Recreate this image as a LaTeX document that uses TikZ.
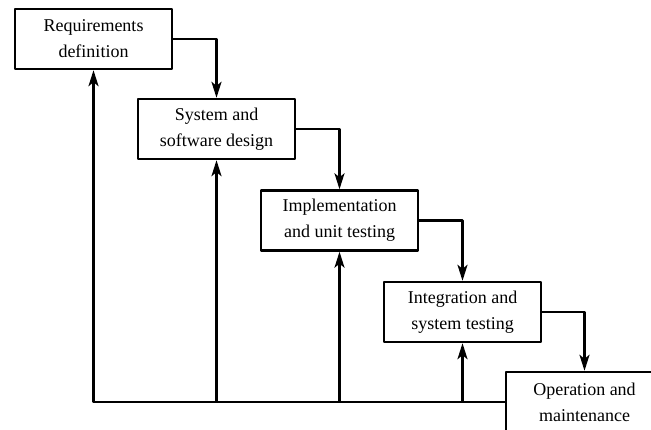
\documentclass[tikz,border=0pt]{standalone}
\usepackage{fontspec}
\setmainfont{Liberation Serif}
\usetikzlibrary{arrows.meta}
\begin{document}
\begin{tikzpicture}[x=1pt,y=-1pt,line join=round,
	font=\fontsize{18}{26}\selectfont,
	stage/.style={draw,line width=2.4pt,fill=white,minimum width=157pt,minimum height=60pt,align=center,inner sep=0pt},
	flow/.style={-{Stealth[length=16pt,width=10pt,inset=4pt]},line width=2.4pt}]
				\clip (0,0) rectangle (651,430);
				\path
				(93.5,39) node[stage] (req) {Requirements\\definition}
				(216.5,129) node[stage] (design) {System and\\software design}
				(339.5,220.5) node[stage] (impl) {Implementation\\and unit testing}
				(462.5,312) node[stage] (integ) {Integration and\\system testing}
				(584.5,402) node[stage] (oper) {Operation and\\maintenance}
				;
				\draw[flow] (req) -| (design);
				\draw[flow] (design) -| (impl);
				\draw[flow] (impl) -| (integ);
				\draw[flow] (integ) -| (oper);
				\draw[flow] (oper.west) -| (req.south);
				\draw[flow] (design.south |- oper.west) -- (design.south);
				\draw[flow] (impl.south |- oper.west) -- (impl.south);
				\draw[flow] (integ.south |- oper.west) -- (integ.south);
			\end{tikzpicture}
\end{document}
